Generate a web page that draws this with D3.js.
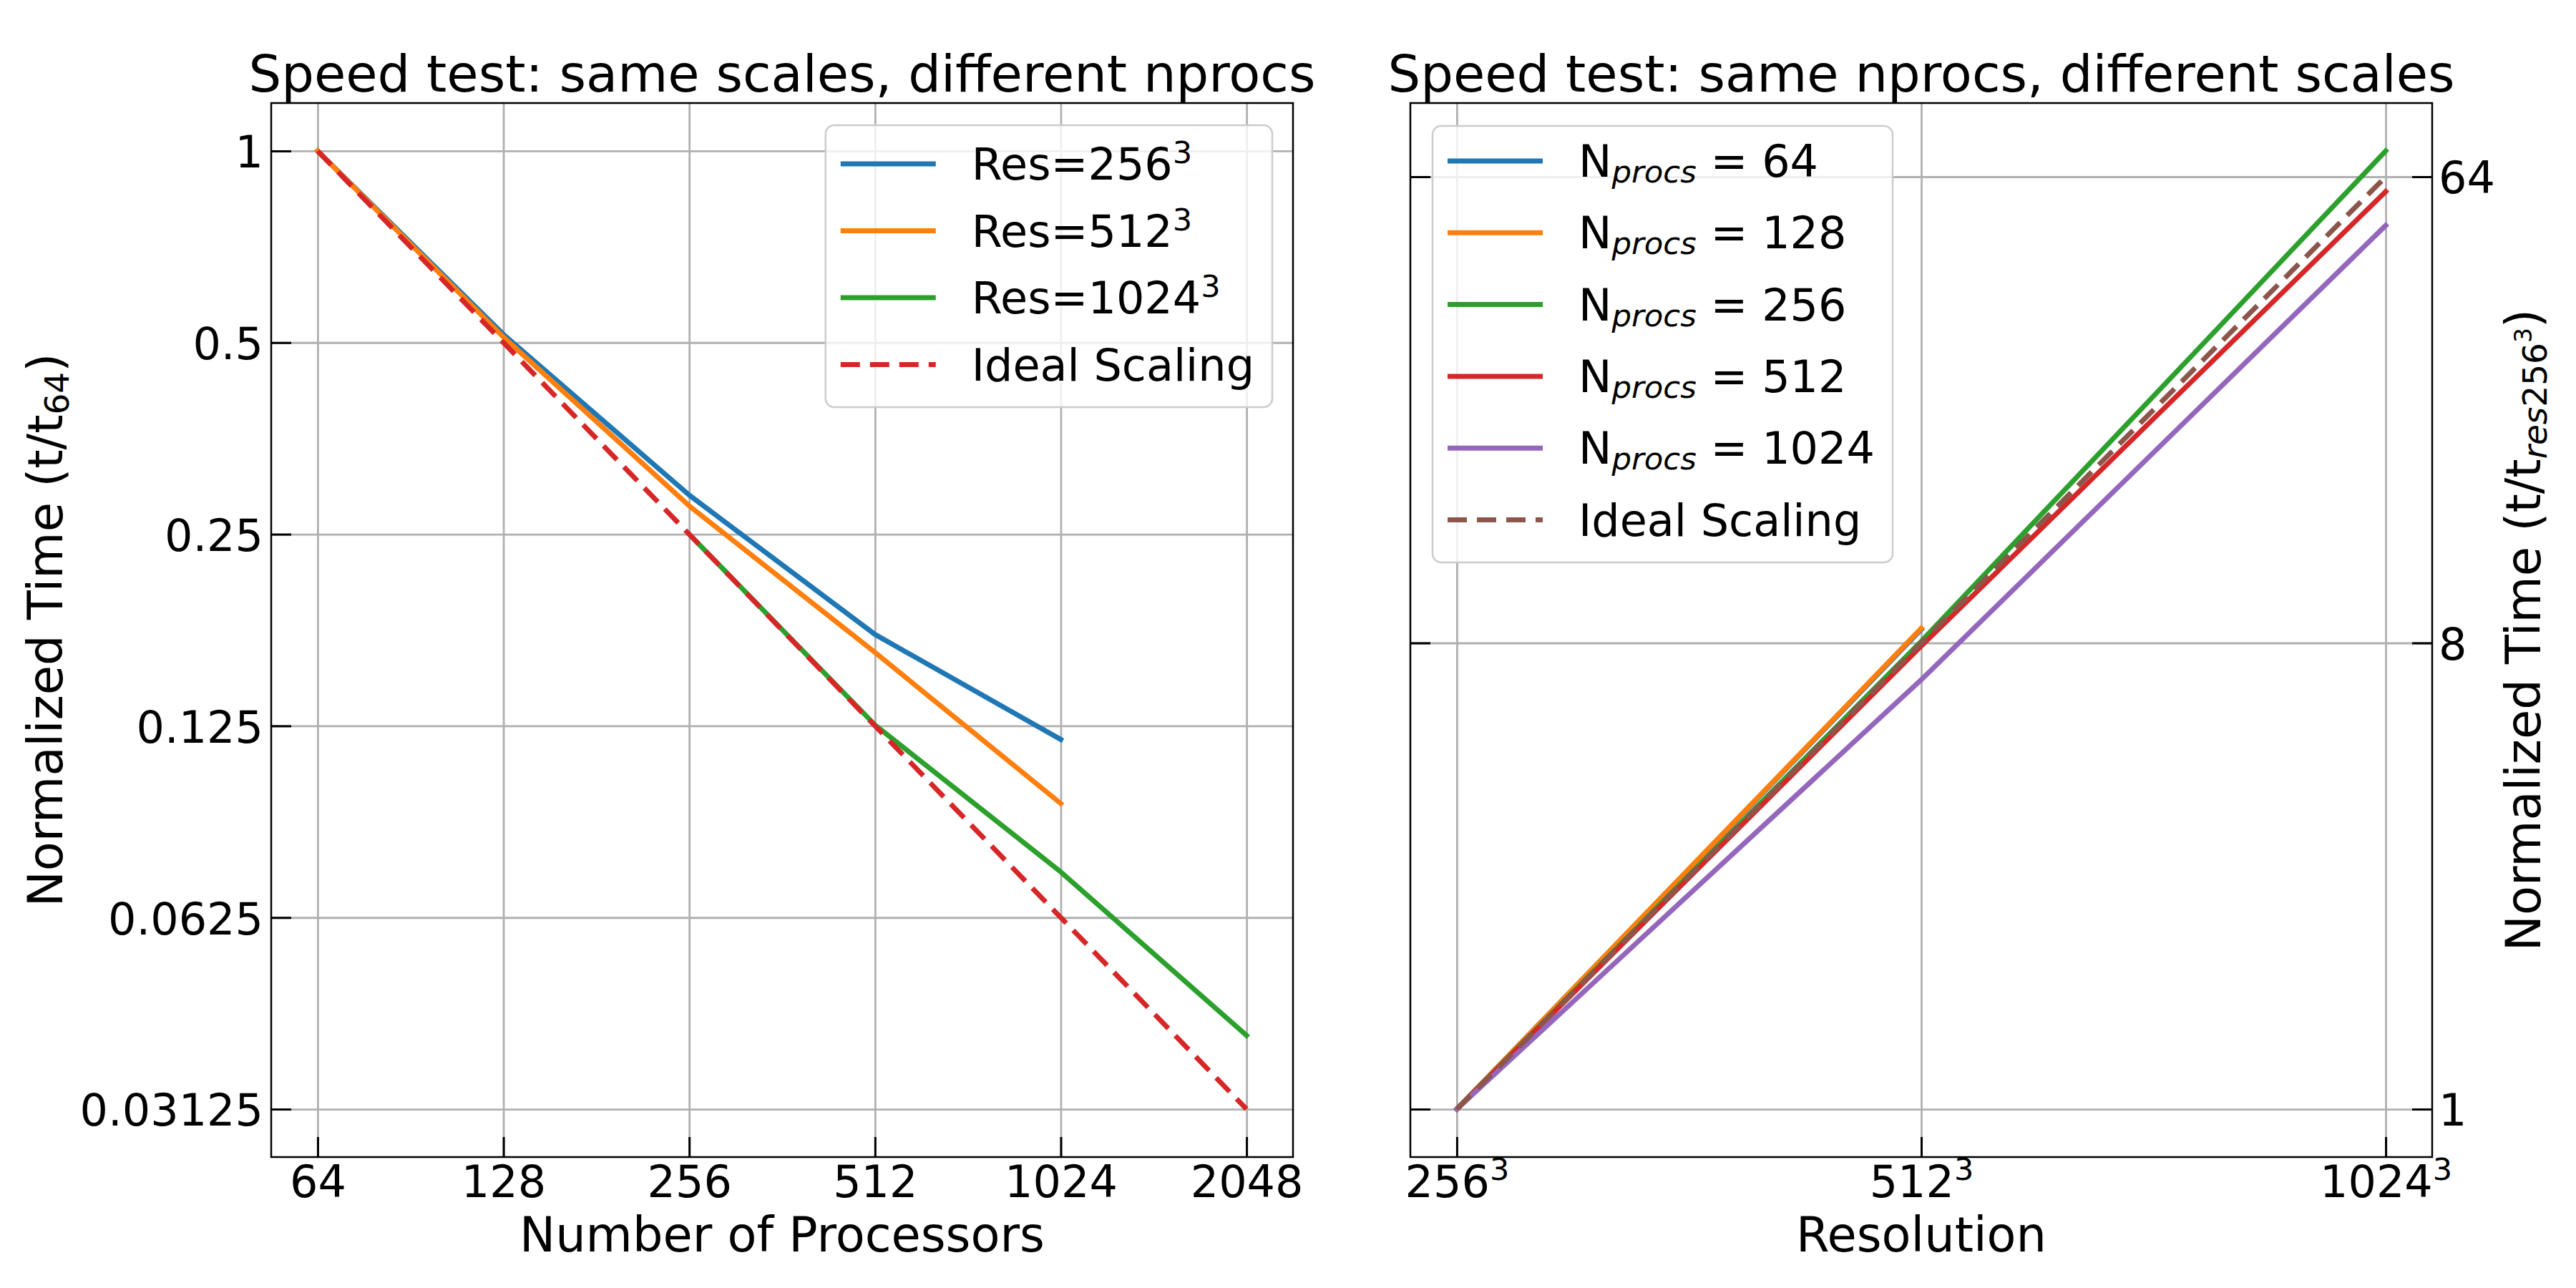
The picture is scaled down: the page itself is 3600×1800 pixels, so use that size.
<!DOCTYPE html>
<html><head><meta charset="utf-8">
<script src="https://cdn.jsdelivr.net/npm/d3@7"></script>
<style>body{margin:0;background:#fff} svg{font-family:"DejaVu Sans",sans-serif} text{white-space:pre}</style>
</head><body>
<svg id="c" width="3600" height="1800"></svg>
<script>
// ---------- data ----------
const procs = [64, 128, 256, 512, 1024, 2048];
const procTickLabels = ["64", "128", "256", "512", "1024", "2048"];
const res256Procs = [64, 128, 256, 512, 1024];
const res256 = [1, 0.515, 0.288, 0.174, 0.119];
const res512Procs = [64, 128, 256, 512, 1024];
const res512 = [1, 0.51, 0.277, 0.163, 0.0944];
const res1024Procs = [256, 512, 1024, 2048];
const res1024 = [0.25, 0.1254, 0.0737, 0.0408];
const idealLeft = [1, 0.5, 0.25, 0.125, 0.0625, 0.03125];
const leftYTicks = [1, 0.5, 0.25, 0.125, 0.0625, 0.03125];
const leftYTickLabels = ["1", "0.5", "0.25", "0.125", "0.0625", "0.03125"];

const resolutions = [256, 512, 1024];
const np64 = [1, 8.5];
const np128 = [1, 8.54];
const np256 = [1, 8.06, 71.8];
const np512 = [1, 7.89, 59.9];
const np1024 = [1, 6.79, 51.5];
const idealRight = [1, 8, 64];
const rightYTicks = [1, 8, 64];
const rightYTickLabels = ["1", "8", "64"];

const C = ["#1f77b4", "#ff7f0e", "#2ca02c", "#d62728", "#9467bd", "#8c564b"];

// ---------- style ----------
const FT = 62, FL = 67, FTI = 72, FLEG = 62, LW = 7;
const GRID = "#b0b0b0";
const svg = d3.select("#c");

function logDomain(vals) {
  const l = vals.map(Math.log2);
  const lo = d3.min(l), hi = d3.max(l), m = 0.05 * (hi - lo);
  return [2 ** (lo - m), 2 ** (hi + m)];
}
function rich(text, parts, base) {
  let cur = 0;
  parts.forEach(p => {
    const s = p.shift || 0;
    const ts = text.append("tspan").text(p.t).attr("font-size", p.size || base);
    if (s !== cur) { ts.attr("dy", s - cur); cur = s; }
    if (p.italic) ts.attr("font-style", "italic");
  });
}

function panel(o) {
  const g = svg.append("g");
  const {x0, x1, y0, y1, x, y} = o;
  // grid
  g.append("g").attr("transform", `translate(0,${y1})`)
    .call(d3.axisBottom(x).tickValues(o.xTicks).tickSize(-(y1 - y0)).tickFormat(""))
    .call(s => { s.select(".domain").remove(); s.selectAll("line").attr("stroke", GRID).attr("stroke-width", 2.8); });
  g.append("g").attr("transform", `translate(${x0},0)`)
    .call(d3.axisLeft(y).tickValues(o.yTicks).tickSize(-(x1 - x0)).tickFormat(""))
    .call(s => { s.select(".domain").remove(); s.selectAll("line").attr("stroke", GRID).attr("stroke-width", 2.8); });
  // x axis ticks
  const xa = g.append("g").attr("transform", `translate(0,${y1})`)
    .call(d3.axisBottom(x).tickValues(o.xTicks).tickSizeInner(-28).tickSizeOuter(0).tickPadding(12)
      .tickFormat((d, i) => o.xLabels[i]));
  xa.select(".domain").remove();
  xa.selectAll("line").attr("stroke", "#000").attr("stroke-width", 3);
  xa.selectAll("text").attr("font-size", FT).attr("font-family", "DejaVu Sans").attr("fill", "#000");
  if (o.xSup) {
    xa.selectAll("text").each(function (d, i) {
      const t = d3.select(this); t.text("");
      rich(t, [{t: o.xLabels[i]}, {t: "3", size: 43, shift: -24}], FT);
    });
  }
  // y axis ticks
  if (o.yLeftLabels) {
    const ya = g.append("g").attr("transform", `translate(${x0},0)`)
      .call(d3.axisLeft(y).tickValues(o.yTicks).tickSizeInner(-28).tickSizeOuter(0).tickPadding(11)
        .tickFormat((d, i) => o.yLabels[i]));
    ya.select(".domain").remove();
    ya.selectAll("line").attr("stroke", "#000").attr("stroke-width", 3);
    ya.selectAll("text").attr("font-size", FT).attr("font-family", "DejaVu Sans").attr("fill", "#000").attr("dy", "0.37em");
  } else {
    const yl = g.append("g").attr("transform", `translate(${x0},0)`)
      .call(d3.axisLeft(y).tickValues(o.yTicks).tickSizeInner(-28).tickSizeOuter(0).tickFormat(""));
    yl.select(".domain").remove();
    yl.selectAll("line").attr("stroke", "#000").attr("stroke-width", 3);
    const yr = g.append("g").attr("transform", `translate(${x1},0)`)
      .call(d3.axisRight(y).tickValues(o.yTicks).tickSizeInner(-28).tickSizeOuter(0).tickPadding(9)
        .tickFormat((d, i) => o.yLabels[i]));
    yr.select(".domain").remove();
    yr.selectAll("line").attr("stroke", "#000").attr("stroke-width", 3);
    yr.selectAll("text").attr("font-size", FT).attr("font-family", "DejaVu Sans").attr("fill", "#000").attr("dy", "0.37em");
  }
  // lines
  const line = d3.line().x(d => x(d[0])).y(d => y(d[1]));
  o.series.forEach(s => {
    g.append("path").attr("d", line(d3.zip(s.xs, s.ys)))
      .attr("fill", "none").attr("stroke", s.color).attr("stroke-width", LW)
      .attr("stroke-linejoin", "round")
      .attr("stroke-linecap", s.dash ? "butt" : "square")
      .attr("stroke-dasharray", s.dash ? "27,14" : null);
  });
  // frame
  g.append("rect").attr("x", x0).attr("y", y0).attr("width", x1 - x0).attr("height", y1 - y0)
    .attr("fill", "none").attr("stroke", "#000").attr("stroke-width", 2.5);
  // title & labels
  const cx = (x0 + x1) / 2, cy = (y0 + y1) / 2;
  g.append("text").attr("x", cx).attr("y", 128).attr("text-anchor", "middle").attr("font-size", FTI).text(o.title);
  g.append("text").attr("x", cx).attr("y", 1749).attr("text-anchor", "middle").attr("font-size", FL).text(o.xTitle);
  const yt = g.append("text").attr("transform", `translate(${o.yTitleX},${cy}) rotate(-90)`)
    .attr("text-anchor", "middle").attr("font-size", FL);
  rich(yt, o.yTitle, FL);
  // legend
  const lg = g.append("g");
  const box = lg.append("rect").attr("rx", 12).attr("ry", 12)
    .attr("fill", "#fff").attr("fill-opacity", 0.8).attr("stroke", "#cccccc").attr("stroke-width", 2.5);
  let maxW = 0;
  const texts = [];
  o.series.forEach((s, i) => {
    const cyy = o.leg.first + i * o.leg.step;
    lg.append("line").attr("x1", 21).attr("x2", 154).attr("y1", cyy).attr("y2", cyy)
      .attr("stroke", s.color).attr("stroke-width", LW)
      .attr("stroke-dasharray", s.dash ? "27,14" : null);
    const t = lg.append("text").attr("x", 204).attr("y", cyy + 22).attr("font-size", FLEG);
    rich(t, s.label, FLEG);
    texts.push(t);
  });
  texts.forEach(t => { maxW = Math.max(maxW, t.node().getComputedTextLength()); });
  const bw = 204 + maxW + 25;
  const bh = o.leg.height;
  box.attr("x", 0).attr("y", 0).attr("width", bw).attr("height", bh);
  const lx = o.leg.anchor === "right" ? x1 - 29 - bw : x0 + 31;
  lg.attr("transform", `translate(${lx},${o.leg.top})`);
}

// ---------- left panel ----------
const xL = d3.scaleLog().base(2).domain(logDomain(procs)).range([379, 1807]);
const yL = d3.scaleLog().base(2).domain(logDomain([...res256, ...res512, ...res1024, ...idealLeft])).range([1617, 144]);
panel({
  x0: 379, x1: 1807, y0: 144, y1: 1617, x: xL, y: yL,
  xTicks: procs, xLabels: procTickLabels, yTicks: leftYTicks, yLabels: leftYTickLabels, yLeftLabels: true,
  title: "Speed test: same scales, different nprocs", xTitle: "Number of Processors",
  yTitleX: 87, yTitle: [{t: "Normalized Time (t/t"}, {t: "64", size: 47, shift: 9}, {t: ")"}],
  series: [
    {xs: res256Procs, ys: res256, color: C[0], label: [{t: "Res=256"}, {t: "3", size: 43, shift: -23}]},
    {xs: res512Procs, ys: res512, color: C[1], label: [{t: "Res=512"}, {t: "3", size: 43, shift: -23}]},
    {xs: res1024Procs, ys: res1024, color: C[2], label: [{t: "Res=1024"}, {t: "3", size: 43, shift: -23}]},
    {xs: procs, ys: idealLeft, color: C[3], dash: true, label: [{t: "Ideal Scaling"}]}
  ],
  leg: {anchor: "right", top: 175, first: 54, step: 93.5, height: 394}
});

// ---------- right panel ----------
const xR = d3.scaleLog().base(2).domain(logDomain(resolutions)).range([1971, 3399]);
const yR = d3.scaleLog().base(2).domain(logDomain([...np64, ...np128, ...np256, ...np512, ...np1024, ...idealRight])).range([1617, 144]);
const npLabel = n => [{t: "N"}, {t: "procs", size: 43.4, shift: 8, italic: true}, {t: " = " + n}];
panel({
  x0: 1971, x1: 3399, y0: 144, y1: 1617, x: xR, y: yR,
  xTicks: resolutions, xLabels: resolutions.map(String), xSup: true,
  yTicks: rightYTicks, yLabels: rightYTickLabels, yLeftLabels: false,
  title: "Speed test: same nprocs, different scales", xTitle: "Resolution",
  yTitleX: 3550,
  yTitle: [{t: "Normalized Time (t/t"}, {t: "res", size: 47, shift: 9, italic: true}, {t: "256", size: 47, shift: 9},
           {t: "3", size: 33, shift: -12}, {t: ")"}],
  series: [
    {xs: resolutions.slice(0, np64.length), ys: np64, color: C[0], label: npLabel(64)},
    {xs: resolutions.slice(0, np128.length), ys: np128, color: C[1], label: npLabel(128)},
    {xs: resolutions, ys: np256, color: C[2], label: npLabel(256)},
    {xs: resolutions, ys: np512, color: C[3], label: npLabel(512)},
    {xs: resolutions, ys: np1024, color: C[4], label: npLabel(1024)},
    {xs: resolutions, ys: idealRight, color: C[5], dash: true, label: [{t: "Ideal Scaling"}]}
  ],
  leg: {anchor: "left", top: 176, first: 49, step: 100.3, height: 610}
});
</script>
</body></html>
